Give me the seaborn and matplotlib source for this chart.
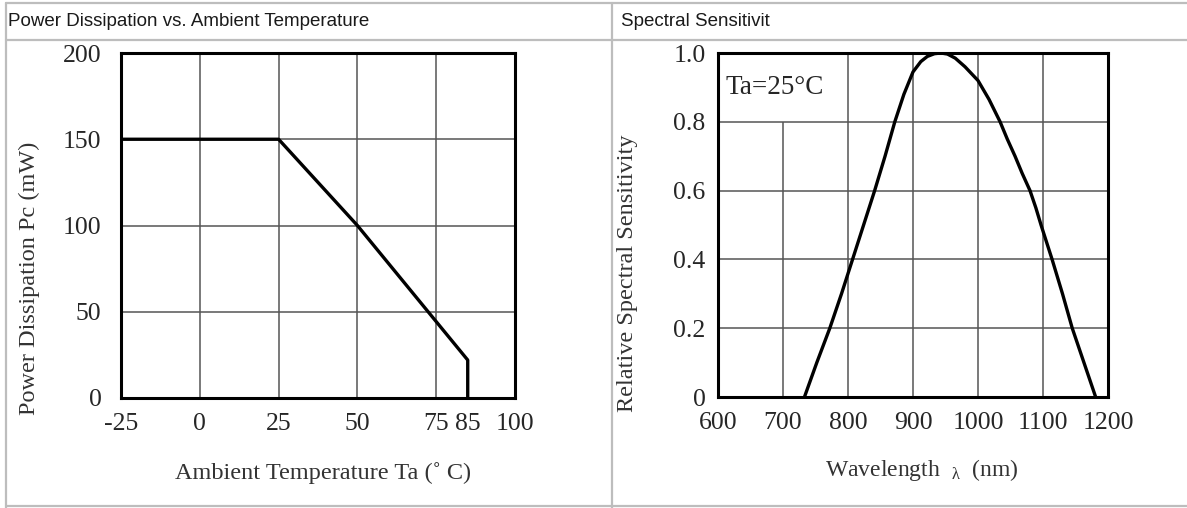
import matplotlib
matplotlib.use("Agg")
import matplotlib.pyplot as plt
from matplotlib.lines import Line2D
import seaborn as sns
import pandas as pd

# power derating curve
temp_c = [-25, 25, 50, 85, 85]
power_mw = [150, 150, 100, 22, 0]
temp_ticks = [-25, 0, 25, 50, 75, 85, 100]
temp_grid = [0, 25, 50, 75]
power_ticks = [0, 50, 100, 150, 200]

# spectral response
wavelength_nm = [733, 752, 772, 790, 807, 824, 841, 857, 872, 886, 900, 912,
                 922, 933, 943, 953, 965, 980, 1000, 1017, 1034, 1045, 1057,
                 1068, 1080, 1089, 1097, 1114, 1130, 1145, 1163, 1181]
rel_sens = [0.0, 0.1, 0.2, 0.3, 0.4, 0.5, 0.6, 0.7, 0.8, 0.88, 0.945, 0.975,
            0.99, 0.998, 1.0, 0.997, 0.985, 0.96, 0.92, 0.865, 0.8, 0.75, 0.7,
            0.65, 0.6, 0.55, 0.5, 0.4, 0.3, 0.2, 0.1, 0.0]
wl_ticks = [600, 700, 800, 900, 1000, 1100, 1200]
wl_grid = [700, 800, 900, 1000, 1100]
wl_grid_top = [0.8, 1.0, 1.0, 1.0, 1.0]
sens_ticks = [0, 0.2, 0.4, 0.6, 0.8, 1.0]
sens_labels = ["0", "0.2", "0.4", "0.6", "0.8", "1.0"]

sns.set_theme(style="white")
plt.rcParams["font.family"] = ["Liberation Serif", "DejaVu Serif"]
plt.rcParams["mathtext.fontset"] = "custom"
plt.rcParams["mathtext.rm"] = "Liberation Serif"
plt.rcParams["mathtext.it"] = "Liberation Serif:italic"

W, H = 1187, 508
fig = plt.figure(figsize=(W / 100, H / 100), dpi=100)
fig.patch.set_facecolor("white")


def px_axes(x0, y0, x1, y1):
    return fig.add_axes([x0 / W, 1 - y1 / H, (x1 - x0) / W, (y1 - y0) / H])


# table-like frame
frame_col = "#bdbdbd"
for xs, ys in [([6, 1187], [3, 3]), ([6, 1187], [40, 40]), ([6, 6], [3, 508]),
               ([612, 612], [3, 508]), ([6, 1187], [506, 506])]:
    fig.add_artist(Line2D([x / W for x in xs], [1 - y / H for y in ys],
                          transform=fig.transFigure, color=frame_col, lw=1.6))

hdr_font = ["Liberation Sans", "DejaVu Sans"]
fig.text(8 / W, 1 - 22 / H, "Power Dissipation vs. Ambient Temperature",
         family=hdr_font, fontsize=13.5, va="center", ha="left", color="#1a1a1a")
fig.text(621 / W, 1 - 22 / H, "Spectral Sensitivit",
         family=hdr_font, fontsize=13.5, va="center", ha="left", color="#1a1a1a")

grid_col = "#555555"
tick_fs = 18.5
label_fs = 17.5
label_col = "#333333"

# left panel
ax1 = px_axes(121, 53, 515, 398)
ax1.vlines(temp_grid, 0, 200, color=grid_col, lw=1.1, zorder=1)
ax1.hlines([50, 100, 150], -25, 100, color=grid_col, lw=1.1, zorder=1)
df_p = pd.DataFrame({"temp": temp_c, "power": power_mw})
sns.lineplot(data=df_p, x="temp", y="power", ax=ax1, sort=False,
             estimator=None, color="black", lw=2.4, zorder=3)
ax1.set_xlim(-25, 100)
ax1.set_ylim(0, 200)
ax1.set_xticks(temp_ticks)
ax1.set_xticklabels([str(t) for t in temp_ticks])
ax1.set_yticks(power_ticks)
ax1.set_xlabel("Ambient Temperature Ta (˚ C)", fontsize=label_fs, color=label_col)
ax1.set_ylabel("Power Dissipation Pc (mW)", fontsize=label_fs, color=label_col)
ax1.xaxis.set_label_coords(0.513, -0.217)
ax1.yaxis.set_label_coords(-0.233, 0.348)
ax1.tick_params(axis="x", pad=11)
ax1.tick_params(axis="y", pad=14)

# right panel
ax2 = px_axes(718, 53, 1108, 397)
ax2.vlines(wl_grid, 0, wl_grid_top, color=grid_col, lw=1.1, zorder=1)
ax2.hlines([0.2, 0.4, 0.6, 0.8], 600, 1200, color=grid_col, lw=1.1, zorder=1)
df_s = pd.DataFrame({"wl": wavelength_nm, "sens": rel_sens})
sns.lineplot(data=df_s, x="wl", y="sens", ax=ax2, sort=False,
             estimator=None, color="black", lw=2.4, zorder=3)
ax2.set_xlim(600, 1200)
ax2.set_ylim(0, 1.0)
ax2.set_xticks(wl_ticks)
ax2.set_yticks(sens_ticks)
ax2.set_yticklabels(sens_labels)
ax2.text(612, 0.9, "Ta=25°C", fontsize=19.5, va="center", ha="left")
ax2.set_xlabel(r"Wavelength  $_{\mathrm{λ}}$  (nm)", fontsize=17, color=label_col)
ax2.set_ylabel("Relative Spectral Sensitivity", fontsize=label_fs, color=label_col)
ax2.xaxis.set_label_coords(0.523, -0.212)
ax2.yaxis.set_label_coords(-0.231, 0.359)
ax2.tick_params(axis="x", pad=11)
ax2.tick_params(axis="y", pad=9)

for ax in (ax1, ax2):
    ax.tick_params(length=0, labelsize=tick_fs)
    ax.xaxis.label.set_va("center")
    ax.yaxis.label.set_va("center")
    for s in ax.spines.values():
        s.set_color("black")
        s.set_linewidth(2.2)
        s.set_visible(True)
    ax.set_facecolor("white")
    if ax.get_legend():
        ax.get_legend().remove()

fig.savefig("out.png", dpi=100)
